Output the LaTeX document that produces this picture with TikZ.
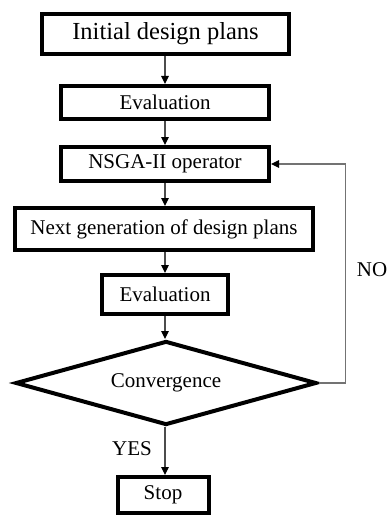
\documentclass[tikz,border=0pt]{standalone}
\usepackage{fontspec}
\setmainfont{Liberation Serif}
\usetikzlibrary{shapes.geometric,arrows.meta}
\begin{document}
\begin{tikzpicture}[x=1pt,y=-1pt,
  box/.style={draw=black,line width=4pt,rectangle,inner sep=0pt,align=center,font=\fontsize{21}{24}\selectfont},
  dia/.style={draw=black,line width=4pt,diamond,inner sep=0pt,aspect=3.4,font=\fontsize{21}{24}\selectfont},
  arr/.style={draw=black!70,line width=1.2pt,-{Triangle[length=8pt,width=7.5pt,black]}},
  lbl/.style={inner sep=0pt,font=\fontsize{21}{24}\selectfont}]
\useasboundingbox (0,0) rectangle (388,516);
\node[box,minimum width=247pt,minimum height=40pt,font=\fontsize{24.5}{28}\selectfont] (init) at (165.5,34) {Initial design plans};
\node[box,minimum width=208pt,minimum height=33pt] (eval1) at (165,102.5) {Evaluation};
\node[box,minimum width=208pt,minimum height=34pt] (nsga) at (165,164) {NSGA-II operator};
\node[box,minimum width=298pt,minimum height=42pt] (next) at (164,229) {Next generation of design plans};
\node[box,minimum width=126pt,minimum height=39pt] (eval2) at (165,294.5) {Evaluation};
\node[dia,minimum width=301pt,minimum height=84pt] (conv) at (166,383) {Convergence};
\node[box,minimum width=91pt,minimum height=36pt] (stop) at (163,495) {Stop};
\coordinate (c1) at (345.5,383);
\coordinate (c2) at (345.5,164);
\node[lbl] (no) at (372,270) {NO};
\node[lbl] (yes) at (132,449) {YES};
\draw[arr] (init.south -| 165,0) -- (eval1.north -| 165,0);
\draw[arr] (eval1.south -| 165,0) -- (nsga.north -| 165,0);
\draw[arr] (nsga.south -| 165,0) -- (next.north -| 165,0);
\draw[arr] (next.south -| 165,0) -- (eval2.north -| 165,0);
\draw[arr] (eval2.south -| 165,0) -- (conv.north -| 165,0);
\draw[arr] (conv.south -| 165,0) -- (stop.north -| 165,0);
\draw[arr,draw=black!55] (conv.east) -- (c1) -- (c2) -- (nsga.east);
\end{tikzpicture}
\end{document}
